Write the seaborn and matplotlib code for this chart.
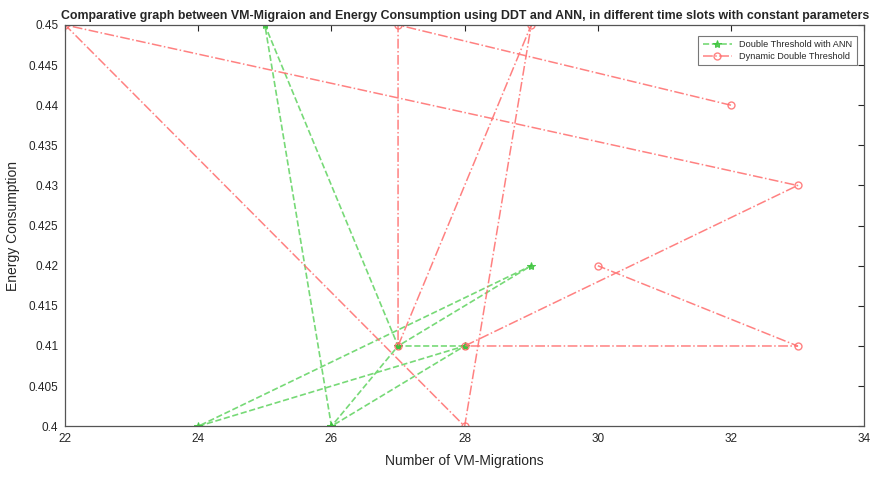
import numpy as np
import pandas as pd
import matplotlib
matplotlib.use("Agg")
import matplotlib.pyplot as plt
import seaborn as sns

# Double Threshold with ANN
ann_migrations = [28, 27, 29, 24, 28, 26, 25, 27, 26]
ann_energy = [0.41, 0.41, 0.42, 0.40, 0.41, 0.40, 0.45, 0.41, 0.40]

# Dynamic Double Threshold
ddt_migrations = [32, 27, 27, 29, 28, 22, 33, 28, 33, 30]
ddt_energy = [0.44, 0.45, 0.41, 0.45, 0.40, 0.45, 0.43, 0.41, 0.41, 0.42]

x_ticks = [22, 24, 26, 28, 30, 32, 34]
y_ticks = [0.4, 0.405, 0.41, 0.415, 0.42, 0.425, 0.43, 0.435, 0.44, 0.445, 0.45]

sns.set_style("white")
plt.rcParams["font.family"] = ["Liberation Sans", "DejaVu Sans"]

df_ann = pd.DataFrame({"x": ann_migrations, "y": ann_energy})
df_ddt = pd.DataFrame({"x": ddt_migrations, "y": ddt_energy})

fig, ax = plt.subplots(figsize=(8.8, 4.8), dpi=100)
fig.subplots_adjust(left=0.074, right=0.982, top=0.948, bottom=0.112)

sns.lineplot(data=df_ann, x="x", y="y", sort=False, estimator=None, ax=ax,
             color="#5fd35f", alpha=0.85, linestyle="--", linewidth=1.2,
             marker="*", markersize=6, markerfacecolor="#3cc43c",
             markeredgecolor="#3cc43c", label="Double Threshold with ANN")
sns.lineplot(data=df_ddt, x="x", y="y", sort=False, estimator=None, ax=ax,
             color="#ff6b6b", alpha=0.85, linestyle="-.", linewidth=1.1,
             marker="o", markersize=5, markerfacecolor="none",
             markeredgecolor="#ff6b6b", markeredgewidth=1.0,
             label="Dynamic Double Threshold")

ax.set_xlim(22, 34)
ax.set_ylim(0.4, 0.45)
ax.set_xticks(x_ticks)
ax.set_yticks(y_ticks)
ax.set_yticklabels(["%g" % v for v in y_ticks])
ax.tick_params(direction="in", top=True, right=True, length=4, pad=5,
               labelsize=8.5, colors="#262626", width=0.8)
for s in ax.spines.values():
    s.set_color("#555555")
    s.set_linewidth(0.9)

ax.set_xlabel("Number of VM-Migrations", fontsize=10, color="#262626", labelpad=6)
ax.set_ylabel("Energy Consumption", fontsize=10, color="#262626", labelpad=6)
ax.set_title("Comparative graph between VM-Migraion and Energy Consumption using DDT and ANN, "
             "in different time slots with constant parameters",
             fontsize=8.9, fontweight="bold", pad=4)

leg = ax.legend(loc="upper right", fontsize=6.6, frameon=True, fancybox=False,
                handlelength=3.2, borderpad=0.5, labelspacing=0.3,
                bbox_to_anchor=(0.997, 0.985))
leg.get_frame().set_edgecolor("#555555")
leg.get_frame().set_linewidth(0.8)

plt.savefig("out.png", dpi=100)
